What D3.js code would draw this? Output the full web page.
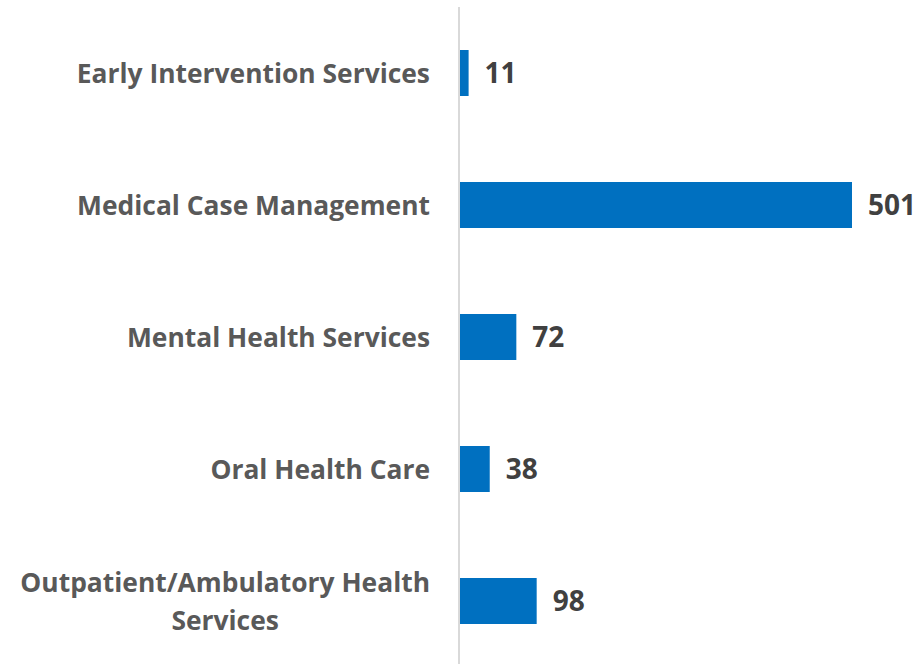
<!DOCTYPE html>
<html>
<head>
<meta charset="utf-8">
<script src="https://cdn.jsdelivr.net/npm/d3@7"></script>
<style>
  html, body { margin: 0; padding: 0; background: #fff; }
  svg { display: block; }
</style>
</head>
<body>
<svg id="chart" width="920" height="664"></svg>
<script>
const categories = [
  ["Early Intervention Services"],
  ["Medical Case Management"],
  ["Mental Health Services"],
  ["Oral Health Care"],
  ["Outpatient/Ambulatory Health", "Services"]
];
const values = [11, 501, 72, 38, 98];

const svg = d3.select("#chart");
const W = 920, H = 664;
const font = "'Open Sans', Lato, sans-serif";

const y = d3.scaleBand()
  .domain(d3.range(categories.length))
  .range([7, 667])
  .paddingInner(0.6515)
  .paddingOuter(0.6515 / 2);

const x = d3.scaleLinear().domain([0, 501]).range([460, 852]);

// axis line
svg.append("line")
  .attr("x1", 459).attr("x2", 459)
  .attr("y1", 7).attr("y2", H)
  .attr("stroke", "#d9d9d9").attr("stroke-width", 2);

// bars
svg.selectAll("rect.bar")
  .data(values)
  .join("rect")
  .attr("class", "bar")
  .attr("x", x(0))
  .attr("y", (d, i) => y(i))
  .attr("width", d => x(d) - x(0))
  .attr("height", y.bandwidth())
  .attr("fill", "#0070C0");

// value labels
svg.selectAll("text.val")
  .data(values)
  .join("text")
  .attr("class", "val")
  .attr("x", d => x(d) + 16)
  .attr("y", (d, i) => y(i) + y.bandwidth() / 2)
  .attr("dy", "0.36em")
  .attr("font-family", font)
  .attr("font-weight", "bold")
  .attr("font-size", 28)
  .attr("fill", "#404040")
  .text(d => d);

// category labels
const lineH = 38;
const labelRight = 430;
categories.forEach((lines, i) => {
  const cy = y(i) + y.bandwidth() / 2;
  const t = svg.append("text")
    .attr("font-family", font)
    .attr("font-weight", "bold")
    .attr("font-size", 26.4)
    .attr("fill", "#595959");
  if (lines.length === 1) {
    t.attr("text-anchor", "end")
      .attr("x", labelRight)
      .attr("y", cy)
      .attr("dy", "0.36em")
      .text(lines[0]);
  } else {
    t.attr("text-anchor", "middle");
    const tsp = t.selectAll("tspan").data(lines).join("tspan")
      .attr("y", (d, k) => cy + (k - (lines.length - 1) / 2) * lineH)
      .attr("dy", "0.36em")
      .text(d => d);
    const widths = tsp.nodes().map(n => n.getComputedTextLength());
    const maxW = d3.max(widths);
    tsp.attr("x", labelRight - maxW / 2);
  }
});
</script>
</body>
</html>
